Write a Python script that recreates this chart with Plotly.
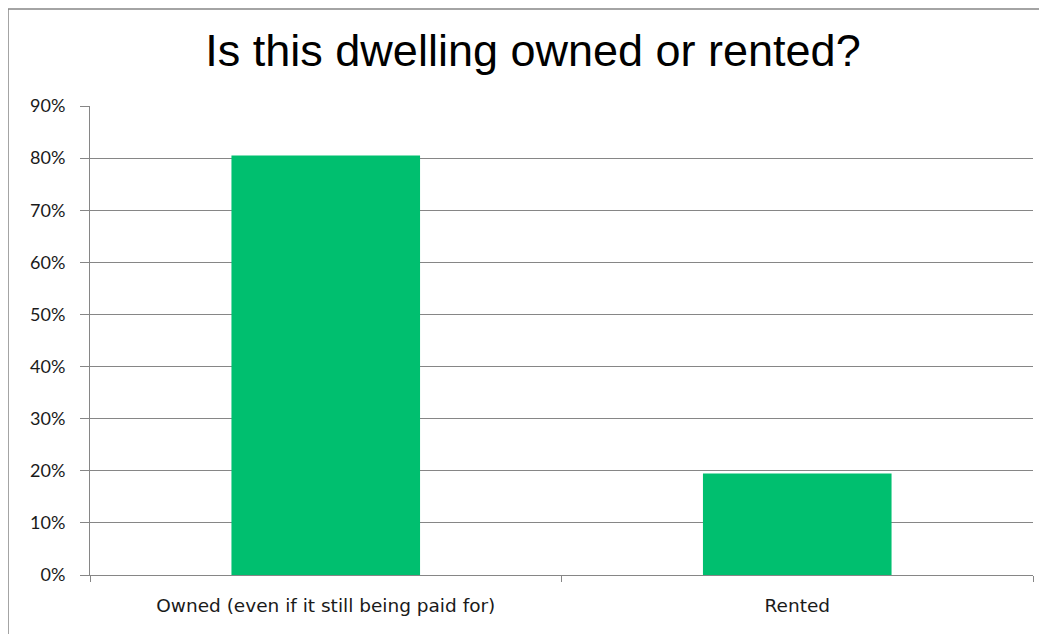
import plotly.graph_objects as go

categories = ["Owned (even if it still being paid for)", "Rented"]
values = [80.5, 19.5]
y_ticks = [0, 10, 20, 30, 40, 50, 60, 70, 80, 90]
y_labels = [f"{v}%" for v in y_ticks]

OFF = 8  # page body margin
W, H = 1047 - OFF, 634 - OFF
L, R, T, B = 90 - OFF, 14, 106 - OFF, 59
pw = W - L - R
ph = H - T - B

fig = go.Figure(go.Bar(x=categories, y=values, marker=dict(color="#00BF6F", line=dict(width=0)), width=0.4))

fig.update_layout(
    width=W, height=H,
    margin=dict(l=L, r=R, t=T, b=B),
    paper_bgcolor="white", plot_bgcolor="white",
    showlegend=False,
    title=dict(text="Is this dwelling owned or rented?", xref="paper", x=(533 - 90) / pw, xanchor="center",
               yref="container", y=1 - (50 - OFF) / H, yanchor="middle",
               font=dict(family="Liberation Sans, Arial", size=45, color="#000000")),
    xaxis=dict(type="category", ticks="outside", tickson="boundaries", ticklen=6, tickcolor="#868686",
               showline=True, linecolor="#868686", linewidth=1, showgrid=False, ticklabelstandoff=14,
               tickfont=dict(family="DejaVu Sans", size=18.5, color="#1a1a1a")),
    yaxis=dict(range=[0, 90], tickvals=y_ticks, ticktext=y_labels, ticks="outside", ticklen=9, tickcolor="#868686",
               showline=True, linecolor="#868686", linewidth=1, showgrid=True, gridcolor="#868686", gridwidth=1,
               zeroline=False, ticklabelstandoff=11,
               tickfont=dict(family="Lato", size=18, color="#1a1a1a")),
    shapes=[dict(type="rect", xref="paper", yref="paper",
                 x0=(8 - 90) / pw, x1=(1060 - 90) / pw,
                 y0=-(B + 20) / ph, y1=1 + (106 - 9) / ph,
                 line=dict(color="#868686", width=1.5), fillcolor="rgba(0,0,0,0)", layer="below")],
)

fig.write_html("out.html")
